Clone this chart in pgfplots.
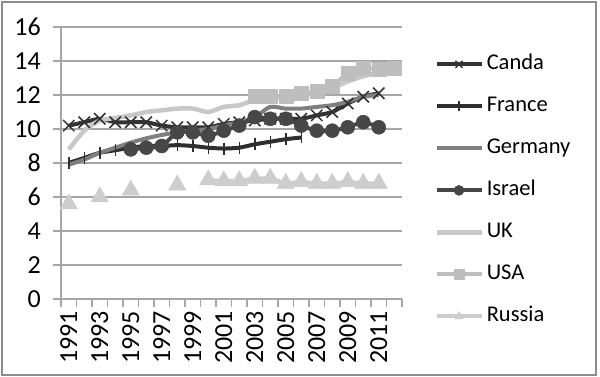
\documentclass[border=0pt]{standalone}
\usepackage{fontspec}
\setmainfont{Carlito}
\usepackage{pgfplots}
\usepackage{pgfplotstable}
\pgfplotsset{compat=1.18}
\definecolor{framegray}{HTML}{8C8C8C}
\definecolor{gridgray}{HTML}{A6A6A6}
\definecolor{canadac}{HTML}{333333}
\definecolor{francec}{HTML}{2E2E2E}
\definecolor{germanyc}{HTML}{7F7F7F}
\definecolor{israelc}{HTML}{474747}
\definecolor{ukc}{HTML}{C8C8C8}
\definecolor{usac}{HTML}{BEBEBE}
\definecolor{russiac}{HTML}{CDCDCD}

\pgfplotstableread{
x canada france germany israel uk usa russia
0  10.2  8.0  7.9  nan  8.8  nan  5.6
1  10.4  8.3  8.2  nan  9.9  nan  nan
2  10.6  8.6  8.6  nan  10.5 nan  6.0
3  10.4  8.75 8.9  nan  10.65 nan nan
4  10.4  8.9  9.2  8.8  10.8 nan  6.4
5  10.4  9.0  9.45 8.9  11.0 nan  nan
6  10.2  9.0  9.65 9.0  11.1 nan  nan
7  10.1  9.05 9.8  9.8  11.2 nan  6.7
8  10.1  9.0  9.9  9.8  11.2 nan  nan
9  10.1  8.9  10.0 9.6  11.0 nan  7.0
10 10.3  8.85 10.2 9.9  11.3 nan  6.95
11 10.4  8.9  10.4 10.2 11.4 nan  6.95
12 10.5  9.1  10.7 10.7 11.7 11.9 7.1
13 10.6  9.25 11.3 10.6 11.8 11.9 7.1
14 10.6  9.4  11.2 10.6 11.9 11.9 6.8
15 10.6  9.5  11.2 10.2 12.0 12.1 6.9
16 10.8  nan  11.3 9.9  12.1 12.2 6.8
17 11.0  nan  11.4 9.9  12.4 12.5 6.8
18 11.5  nan  11.6 10.1 12.8 13.3 6.9
19 11.9  nan  11.9 10.4 13.1 13.6 6.8
20 12.1  nan  12.0 10.1 13.3 13.5 6.8
21 nan   nan  nan  nan  13.3 13.6 nan
}\datatable

\begin{document}
\begin{tikzpicture}
\path[use as bounding box] (0,0) rectangle (600pt,377pt);
\draw[color=framegray, line width=1.5pt] (2pt,2pt) rectangle (596pt,375pt);
\begin{axis}[
  at={(61pt,78pt)}, anchor=south west,
  scale only axis, width=341pt, height=272pt,
  xmin=-0.5, xmax=21.5, ymin=0, ymax=16,
  axis x line*=bottom, axis y line*=left,
  axis line style={draw=gridgray, line width=1.5pt},
  ytick={0,2,...,16},
  ymajorgrids, grid style={draw=gridgray, line width=1.5pt},
  xtick={-0.5,0.5,...,21.5}, xticklabels={},
  extra x ticks={0,2,...,20},
  extra x tick labels={1991,1993,1995,1997,1999,2001,2003,2005,2007,2009,2011},
  extra x tick style={major tick length=0pt, grid=none,
     xticklabel style={yshift=-12pt, rotate=90, anchor=east, inner sep=0pt}},
  tick align=outside, major tick length=8pt,
  tick style={draw=gridgray, line width=1.5pt},
  /pgf/number format/assume math mode=true,
  tick label style={font=\fontsize{26}{28}\selectfont, text=black},
  yticklabel style={anchor=east, inner sep=0pt, xshift=-12pt},
  unbounded coords=jump,
  clip=false,
  legend style={at={(1.094,0.90)}, anchor=north west, draw=none, fill=none,
     font=\fontsize{22.5}{25}\selectfont, row sep=22pt, inner sep=0pt,
     nodes={inner sep=0pt, text height=15pt, text depth=5pt},
     /tikz/every odd column/.append style={column sep=3pt}},
  legend cell align=left,
  legend image code/.code={\draw[mark repeat=2,mark phase=2,#1,mark size=5pt] plot coordinates {(0pt,0pt) (22.5pt,0pt) (45pt,0pt)};},
]
\addplot[color=canadac, line width=4pt, smooth, tension=0.4, mark=x, mark size=8pt, mark options={line width=1.5pt, solid}] table[x=x, y=canada] {\datatable};
\addlegendentry{Canda}
\addplot[color=francec, line width=4pt, smooth, tension=0.4, mark=|, mark size=6pt, mark options={line width=1.5pt, solid}] table[x=x, y=france] {\datatable};
\addlegendentry{France}
\addplot[color=germanyc, line width=4pt, smooth, tension=0.4, no markers] table[x=x, y=germany] {\datatable};
\addlegendentry{Germany}
\addplot[color=israelc, line width=4pt, smooth, tension=0.4, mark=*, mark size=7pt, mark options={fill=israelc, draw=israelc, line width=0.5pt, solid}] table[x=x, y=israel] {\datatable};
\addlegendentry{Israel}
\addplot[color=ukc, line width=4.5pt, smooth, tension=0.4, no markers] table[x=x, y=uk] {\datatable};
\addlegendentry{UK}
\addplot[color=usac, line width=4pt, smooth, tension=0.4, mark=square*, mark size=7pt, mark options={fill=usac, draw=usac, line width=0.5pt, solid}] table[x=x, y=usa] {\datatable};
\addlegendentry{USA}
\addplot[color=russiac, line width=4pt, mark=triangle*, mark size=10pt, mark options={fill=russiac, draw=russiac, line width=0.5pt, solid}] table[x=x, y=russia] {\datatable};
\addlegendentry{Russia}
\end{axis}
\end{tikzpicture}
\end{document}
